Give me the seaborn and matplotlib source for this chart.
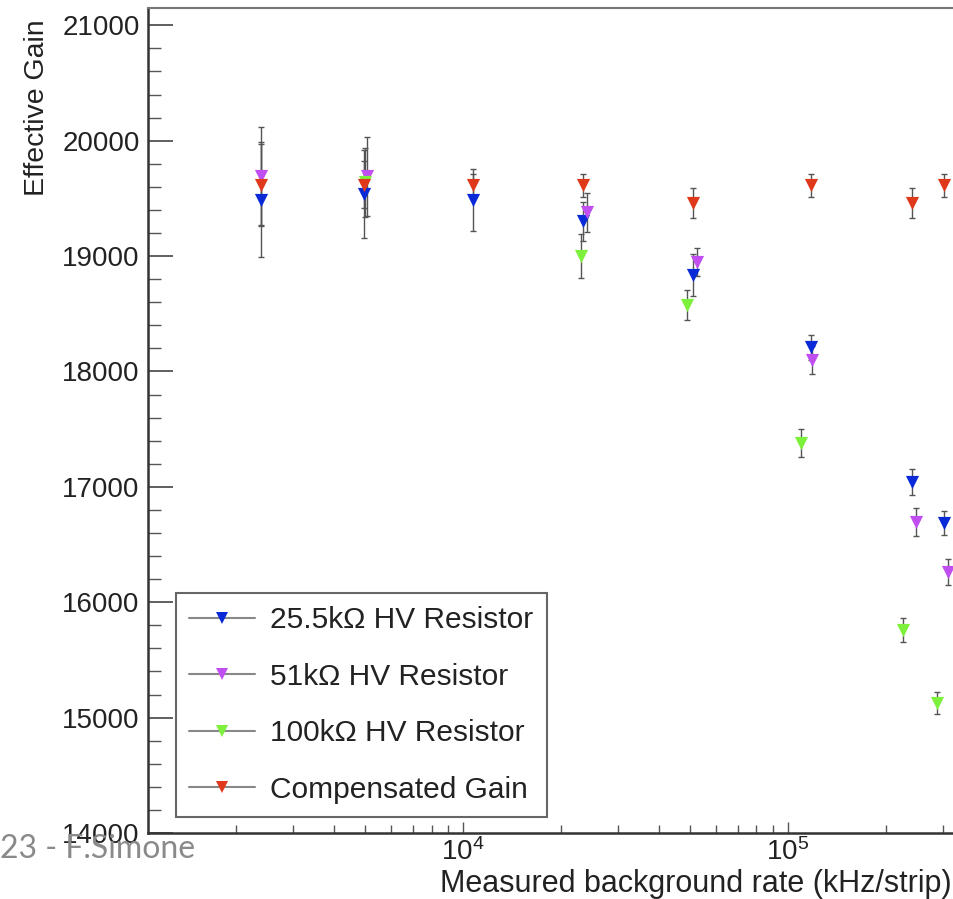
import numpy as np
import pandas as pd
import matplotlib
matplotlib.use("Agg")
import matplotlib.pyplot as plt
import seaborn as sns
from matplotlib.lines import Line2D
from matplotlib.ticker import FixedLocator, MultipleLocator, LogLocator, NullFormatter, FixedFormatter

# ---------------- data ----------------
series_names = ["25.5k\u03a9 HV Resistor", "51k\u03a9 HV Resistor",
                "100k\u03a9 HV Resistor", "Compensated Gain"]
series_colors = ["#0a2ad8", "#c04ef0", "#7cf03a", "#e0381a"]

rate_25k = [2390, 4955, 10740, 23400, 51000, 117800, 240700, 302000]
gain_25k = [19490, 19536, 19484, 19302, 18834, 18210, 17041, 16686]
err_25k = [500, 380, 270, 170, 180, 110, 110, 105]

rate_51k = [2390, 5070, 24070, 52500, 118500, 247700, 310700]
gain_51k = [19690, 19690, 19380, 18947, 18097, 16694, 16261]
err_51k = [430, 340, 170, 120, 120, 120, 110]

rate_100k = [5000, 23070, 48900, 109700, 225900, 287300]
gain_100k = [19640, 18999, 18574, 17379, 15759, 15127]
err_100k = [300, 190, 130, 120, 105, 95]

rate_comp = [2390, 4955, 10740, 23400, 51000, 117800, 240700, 302000]
gain_comp = [19620, 19620, 19614, 19614, 19458, 19614, 19458, 19614]
err_comp = [350, 200, 100, 100, 130, 100, 130, 100]

y_ticks = [14000, 15000, 16000, 17000, 18000, 19000, 20000, 21000]
x_major = [1e4, 1e5]
x_major_labels = ["$10^{4}$", "$10^{5}$"]

frames = []
for name, r, g, e in [(series_names[0], rate_25k, gain_25k, err_25k),
                      (series_names[1], rate_51k, gain_51k, err_51k),
                      (series_names[2], rate_100k, gain_100k, err_100k),
                      (series_names[3], rate_comp, gain_comp, err_comp)]:
    frames.append(pd.DataFrame({"rate": r, "gain": g, "err": e, "series": name}))
df = pd.concat(frames, ignore_index=True)

# ---------------- style ----------------
sns.set_style("white")
plt.rcParams["font.family"] = ["Liberation Sans", "DejaVu Sans"]
plt.rcParams["mathtext.fontset"] = "custom"
plt.rcParams["mathtext.rm"] = "Liberation Sans"
plt.rcParams["mathtext.default"] = "regular"

W, H = 954, 899
fig = plt.figure(figsize=(W / 100, H / 100), dpi=100)
fig.patch.set_facecolor("white")
ax_l, ax_r, ax_t, ax_b = 148, 954, 8, 833
ax = fig.add_axes([ax_l / W, 1 - ax_b / H, (ax_r - ax_l) / W, (ax_b - ax_t) / H])

for name, col in zip(series_names, series_colors):
    sub = df[df["series"] == name]
    ax.errorbar(sub["rate"], sub["gain"], yerr=sub["err"], fmt="none",
                ecolor="#555555", elinewidth=1.0, capsize=2, capthick=1.0, zorder=2)
    sns.scatterplot(data=sub, x="rate", y="gain", ax=ax, color=col, marker="v",
                    s=90, linewidth=0, legend=False, zorder=3)

ax.set_xscale("log")
ax.set_xlim(1070, 325000)
ax.set_ylim(14000, 21150)

# ticks
ax.yaxis.set_major_locator(FixedLocator(y_ticks))
ax.yaxis.set_minor_locator(MultipleLocator(200))
ax.set_yticklabels([str(t) for t in y_ticks])
ax.xaxis.set_major_locator(FixedLocator(x_major))
ax.xaxis.set_major_formatter(FixedFormatter(x_major_labels))
ax.xaxis.set_minor_locator(LogLocator(base=10, subs=np.arange(2, 10)))
ax.xaxis.set_minor_formatter(NullFormatter())

ax.tick_params(axis="y", which="major", direction="in", length=18, width=1.2,
               color="#444444", labelsize=20, pad=6, left=True, right=False,
               labelcolor="#222222")
ax.tick_params(axis="y", which="minor", direction="in", length=9, width=1.0,
               color="#555555", left=True, right=False)
ax.tick_params(axis="x", which="major", direction="in", length=8, width=1.0,
               color="#555555", labelsize=20, pad=4, bottom=True, top=False,
               labelcolor="#222222")
ax.tick_params(axis="x", which="minor", direction="in", length=6, width=1.0,
               color="#555555", bottom=True, top=False)

for side in ["left", "bottom"]:
    ax.spines[side].set_color("#333333")
    ax.spines[side].set_linewidth(1.8)
ax.spines["top"].set_color("#777777")
ax.spines["top"].set_linewidth(1.5)
ax.spines["right"].set_visible(False)

ax.set_xlabel("Measured background rate (kHz/strip)", fontsize=22, loc="right",
              color="#222222")
ax.xaxis.set_label_coords((952 - ax_l) / (ax_r - ax_l), (ax_b - 869) / (ax_b - ax_t))
ax.set_ylabel("Effective Gain", fontsize=20.5, loc="top", color="#222222")
ax.yaxis.set_label_coords((50 - ax_l) / (ax_r - ax_l), (ax_b - 19) / (ax_b - ax_t))

# legend
handles = [Line2D([0], [0], color="#888888", lw=1.5, marker="v", markersize=8,
                  markerfacecolor=c, markeredgewidth=0) for c in series_colors]
leg = ax.legend(handles, series_names, loc="lower left",
                bbox_to_anchor=((176 - ax_l) / (ax_r - ax_l), (ax_b - 817) / (ax_b - ax_t)),
                borderaxespad=0, fontsize=21.5, frameon=True, fancybox=False,
                handlelength=2.2, handletextpad=0.5, labelspacing=0.95,
                borderpad=0.45, framealpha=1)
leg.get_frame().set_edgecolor("#666666")
leg.get_frame().set_linewidth(1.5)
for t in leg.get_texts():
    t.set_color("#222222")

# slide footer
fig.text(0 / W, 1 - 858 / H, "23 - F.Simone", fontsize=23, color="#8a8a8a",
         family=["Lato", "DejaVu Sans"], ha="left", va="baseline")

fig.savefig("out.png", dpi=100, facecolor="white")
